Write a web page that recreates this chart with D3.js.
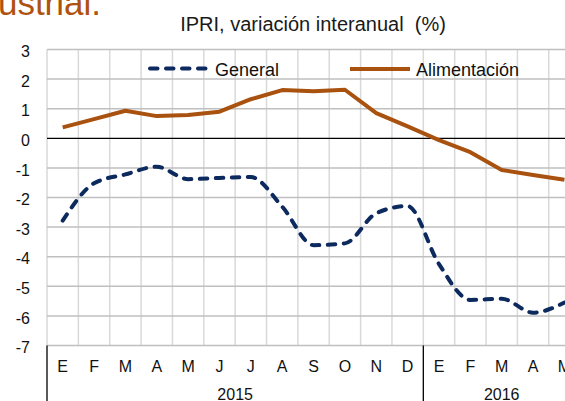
<!DOCTYPE html>
<html><head><meta charset="utf-8">
<script src="https://cdn.jsdelivr.net/npm/d3@7"></script>
<style>
html,body{margin:0;padding:0;background:#fff;overflow:hidden}
text{font-family:"Liberation Sans",Arial,sans-serif}
</style></head>
<body>
<svg id="chart" width="565" height="401"></svg>
<script>
const months = ["E","F","M","A","M","J","J","A","S","O","N","D","E","F","M","A","M"];
const years = ["2015","2016"];
const yearMonthCounts = [12, 5];
const general = [-2.78,-1.52,-1.22,-0.96,-1.38,-1.34,-1.31,-2.31,-3.61,-3.55,-2.53,-2.29,-4.25,-5.46,-5.42,-5.89,-5.55];
const alimentacion = [0.37,0.65,0.93,0.75,0.79,0.9,1.32,1.63,1.59,1.64,0.85,0.40,-0.06,-0.47,-1.07,-1.24,-1.4];
const yTicks = [3,2,1,0,-1,-2,-3,-4,-5,-6,-7];
const seriesNames = ["General","Alimentación"];

const svg = d3.select("#chart");
const x0 = 47, band = 31.36;
const x = d3.scaleBand().domain(d3.range(months.length)).range([x0, x0 + band*months.length]).padding(0);
const y = d3.scaleLinear().domain([-7,3]).range([345.5,49.5]);
const cx = i => x(i) + x.bandwidth()/2;

// partial heading
svg.append("text").attr("x",101).attr("y",15).attr("text-anchor","end")
  .attr("font-size",35).attr("fill","#B0520F").text("industrial.");

// title
svg.append("text").attr("x",313).attr("y",31).attr("text-anchor","middle")
  .attr("font-size",20).attr("fill","#1a1a1a").style("white-space","pre")
  .text("IPRI, variación interanual  (%)");

const g = svg.append("g");
g.selectAll("line.v").data(d3.range(months.length+1)).join("line")
  .attr("x1",i=>x0+band*i).attr("x2",i=>x0+band*i)
  .attr("y1",y(3)).attr("y2",y(-7))
  .attr("stroke","#d9d9d9").attr("stroke-width",1.5);
g.selectAll("line.h").data(yTicks.filter(d=>d!==0)).join("line")
  .attr("x1",x0).attr("x2",x0+band*months.length)
  .attr("y1",d=>y(d)).attr("y2",d=>y(d))
  .attr("stroke","#bfbfbf").attr("stroke-width",1.5);
g.append("line").attr("x1",x0).attr("x2",x0+band*months.length)
  .attr("y1",y(0)).attr("y2",y(0)).attr("stroke","#000").attr("stroke-width",1.3);

svg.selectAll("text.yl").data(yTicks).join("text")
  .attr("x",30).attr("y",d=>y(d)+7.6).attr("text-anchor","end")
  .attr("font-size",16).attr("fill","#111").text(d=>d);

svg.selectAll("text.ml").data(months).join("text")
  .attr("x",(d,i)=>cx(i)).attr("y",371.5).attr("text-anchor","middle")
  .attr("font-size",16).attr("fill","#111").text(d=>d);

let start = 0;
const bounds = [0];
yearMonthCounts.forEach(n=>{start+=n;bounds.push(start);});
svg.selectAll("line.ys").data(bounds).join("line")
  .attr("x1",b=>x0+band*b).attr("x2",b=>x0+band*b)
  .attr("y1",y(-7)).attr("y2",401).attr("stroke","#000").attr("stroke-width",1.3);
svg.selectAll("text.yr").data(years).join("text")
  .attr("x",(d,i)=>x0+band*(bounds[i]+bounds[i+1])/2).attr("y",399.5)
  .attr("text-anchor","middle").attr("font-size",16).attr("fill","#111").text(d=>d);

const lineAl = d3.line().x((d,i)=>cx(i)).y(d=>y(d));
const lineGen = d3.line().x((d,i)=>cx(i)).y(d=>y(d)).curve(d3.curveMonotoneX);
const orange = "#A9510F", navy = "#0C2A5E";
svg.append("path").attr("d",lineAl(alimentacion)).attr("fill","none")
  .attr("stroke",orange).attr("stroke-width",4).attr("stroke-linejoin","round");
svg.append("path").attr("d",lineGen(general)).attr("fill","none")
  .attr("stroke",navy).attr("stroke-width",4).attr("stroke-dasharray","7.5,8.5").attr("stroke-linecap","round");

svg.append("line").attr("x1",150).attr("x2",208).attr("y1",68.5).attr("y2",68.5)
  .attr("stroke",navy).attr("stroke-width",4).attr("stroke-dasharray","7.5,8.5").attr("stroke-linecap","round");
svg.append("text").attr("x",215).attr("y",75.5).attr("font-size",18).attr("fill","#111").text(seriesNames[0]);
svg.append("line").attr("x1",350).attr("x2",410).attr("y1",69).attr("y2",69)
  .attr("stroke",orange).attr("stroke-width",4);
svg.append("text").attr("x",416).attr("y",75.5).attr("font-size",18).attr("fill","#111").text(seriesNames[1]);
</script>
</body></html>
